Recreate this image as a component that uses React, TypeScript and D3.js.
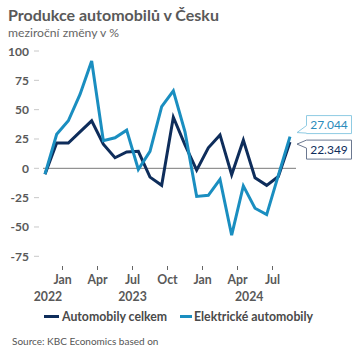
import React from "react";
import * as d3 from "d3";

const totalCars = [-5, 21.5, 21.5, 31, 40.5, 20.5, 9, 14, 14.5, -7.5, -14.5, 43.5, 20, -1.5, 17.5, 28.5, -5.5, 24, -8, -14.5, -7, 22.349];
const electricCars = [-5, 29, 40.5, 63, 91.5, 23.5, 26, 32.5, -1, 14.5, 52.5, 66, 31, -24, -23, -9.5, -57, -15, -34, -39.5, -6, 27.044];
const yTicks = [100, 75, 50, 25, 0, -25, -50, -75];
const monthTicks = [
  { idx: 1.5, label: "Jan" },
  { idx: 4.5, label: "Apr" },
  { idx: 7.5, label: "Jul" },
  { idx: 10.5, label: "Oct" },
  { idx: 13.5, label: "Jan" },
  { idx: 16.5, label: "Apr" },
  { idx: 19.5, label: "Jul" },
];
const yearLabels = [
  { idx: 0.25, label: "2022" },
  { idx: 7.5, label: "2023" },
  { idx: 17.5, label: "2024" },
];
const seriesNames = ["Automobily celkem", "Elektrické automobily"];

const DARK = "#0e2d5b";
const LIGHT = "#1a8ec0";
const FONT = "Lato, 'Open Sans', sans-serif";

export default function App() {
  const x = d3.scaleLinear().domain([0, totalCars.length - 1]).range([45, 290]);
  const y = d3.scaleLinear().domain([-75, 100]).range([256.3, 51]);
  const line = d3
    .line<number>()
    .x((_, i) => x(i))
    .y((d) => y(d));

  const lastI = totalCars.length - 1;
  const lx = x(lastI);
  const boxX = lx + 16.5;
  const boxW = 45;
  const b1Top = y(electricCars[lastI]) - 21;
  const b1H = 18;
  const b2Top = y(totalCars[lastI]) - 2;
  const b2H = 19;

  return (
    <svg width={360} height={360} style={{ position: "absolute", left: 0, top: 0 }} fontFamily={FONT}>
      <rect width={360} height={360} fill="#fff" />
      <text x={8} y={21} fontSize={16} fontWeight={700} fill="#595959">
        Produkce automobilů v Česku
      </text>
      <text x={8} y={37} fontSize={12.2} fill="#666">
        meziroční změny v %
      </text>

      {yTicks.map((t) => (
        <g key={t}>
          <text x={29} y={y(t) + 4.5} fontSize={12} fontWeight={700} fill="#595959" textAnchor="end">
            {t}
          </text>
          <line x1={34} x2={39} y1={y(t)} y2={y(t)} stroke="#c8c8c8" strokeWidth={1} />
        </g>
      ))}

      <line x1={x(0) - 2} x2={x(lastI) + 6} y1={y(0)} y2={y(0)} stroke="#7a7a7a" strokeWidth={1} />

      {monthTicks.map((t, i) => (
        <g key={i}>
          <line x1={x(t.idx)} x2={x(t.idx)} y1={266} y2={270} stroke="#666" strokeWidth={1} />
          <text x={x(t.idx)} y={283.5} fontSize={12.3} fontWeight={700} fill="#595959" textAnchor="middle">
            {t.label}
          </text>
        </g>
      ))}
      {yearLabels.map((t, i) => (
        <text key={i} x={x(t.idx)} y={300.5} fontSize={12.3} fontWeight={700} fill="#595959" textAnchor="middle">
          {t.label}
        </text>
      ))}

      <path d={line(totalCars) || ""} fill="none" stroke={DARK} strokeWidth={3} strokeLinejoin="miter" />
      <path d={line(electricCars) || ""} fill="none" stroke={LIGHT} strokeWidth={3} strokeLinejoin="miter" />

      <path
        d={`M${boxX},${b1Top} H${boxX + boxW} V${b1Top + b1H} H${boxX} V${b1Top + b1H - 0.5} L${lx + 7},${b1Top + b1H - 1} L${boxX},${b1Top + b1H - 8} Z`}
        fill="#fff"
        stroke="#8fcbe3"
        strokeWidth={1}
      />
      <text x={boxX + boxW / 2} y={b1Top + 13.5} fontSize={12} fill="#2a8bbb" textAnchor="middle">
        {d3.format(".3f")(electricCars[lastI])}
      </text>
      <path
        d={`M${boxX},${b2Top} H${boxX + boxW} V${b2Top + b2H} H${boxX} V${b2Top + 8} L${lx + 7},${b2Top + 4} Z`}
        fill="#fff"
        stroke="#6b7890"
        strokeWidth={1}
      />
      <text x={boxX + boxW / 2} y={b2Top + 14} fontSize={12} fill={DARK} textAnchor="middle">
        {d3.format(".3f")(totalCars[lastI])}
      </text>

      <line x1={44} x2={59} y1={316.5} y2={316.5} stroke={DARK} strokeWidth={3} />
      <text x={62} y={320.5} fontSize={12.3} fontWeight={700} fill="#4a4a4a">
        {seriesNames[0]}
      </text>
      <line x1={180} x2={192} y1={316.5} y2={316.5} stroke={LIGHT} strokeWidth={3} />
      <text x={194} y={320.5} fontSize={12.3} fontWeight={700} fill="#4a4a4a">
        {seriesNames[1]}
      </text>

      <text x={12} y={345} fontSize={10} fill="#555">
        Source: KBC Economics based on
      </text>
    </svg>
  );
}
